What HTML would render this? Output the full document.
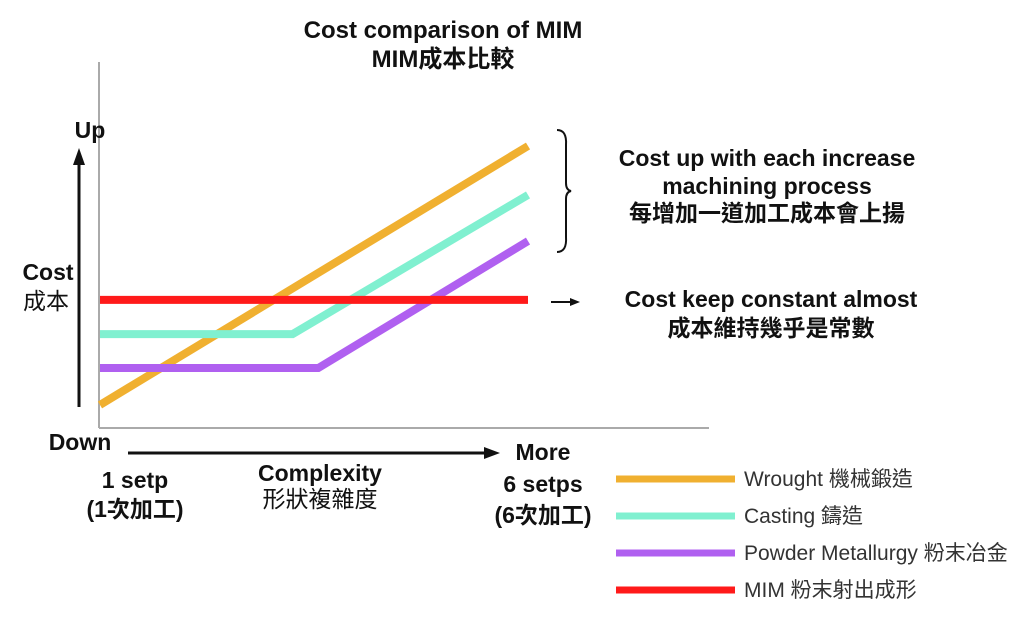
<!DOCTYPE html>
<html><head><meta charset="utf-8"><style>
body{margin:0;background:#fff;}
svg text{font-family:"Liberation Sans","Noto Sans CJK TC",sans-serif;fill:#111;}
.b{font-weight:bold;font-size:23px;}
.lg{font-size:21px;fill:#333;}
</style></head><body>
<svg id="c" width="1024" height="616" viewBox="0 0 1024 616" xmlns="http://www.w3.org/2000/svg">
<text class="b" x="443" y="38" text-anchor="middle" style="font-size:24px">Cost comparison of MIM</text>
<text class="b" x="443" y="67" text-anchor="middle" style="font-size:24px">MIM成本比較</text>
<line x1="99" y1="62" x2="99" y2="428" stroke="#aaa" stroke-width="2"/>
<line x1="99" y1="428" x2="709" y2="428" stroke="#aaa" stroke-width="2"/>
<line x1="79" y1="407" x2="79" y2="162" stroke="#111" stroke-width="3"/>
<polygon points="79,148 73,165 85,165" fill="#111"/>
<line x1="128" y1="453" x2="486" y2="453" stroke="#111" stroke-width="3"/>
<polygon points="500,453 484,447 484,459" fill="#111"/>
<text class="b" x="90" y="138" text-anchor="middle">Up</text>
<text class="b" x="48" y="280" text-anchor="middle">Cost</text>
<text class="b" x="46" y="309" text-anchor="middle" style="font-weight:normal">成本</text>
<text class="b" x="80" y="450" text-anchor="middle">Down</text>
<text class="b" x="543" y="460" text-anchor="middle">More</text>
<text class="b" x="135" y="488" text-anchor="middle">1 setp</text>
<text class="b" x="135" y="517" text-anchor="middle">(1次加工)</text>
<text class="b" x="320" y="481" text-anchor="middle">Complexity</text>
<text class="b" x="320" y="507" text-anchor="middle" style="font-weight:normal">形狀複雜度</text>
<text class="b" x="543" y="492" text-anchor="middle">6 setps</text>
<text class="b" x="543" y="523" text-anchor="middle">(6次加工)</text>
<path d="M557,130 Q567,130 566,145 L566,183 Q566,190 571,191 Q566,192 566,199 L566,237 Q567,252 557,252" fill="none" stroke="#111" stroke-width="2"/>
<text class="b" x="767" y="166" text-anchor="middle">Cost up with each increase</text>
<text class="b" x="767" y="194" text-anchor="middle">machining process</text>
<text class="b" x="767" y="221" text-anchor="middle">每增加一道加工成本會上揚</text>
<line x1="551" y1="302" x2="572" y2="302" stroke="#111" stroke-width="2"/>
<polygon points="580,302 570,298 570,306" fill="#111"/>
<text class="b" x="771" y="307" text-anchor="middle">Cost keep constant almost</text>
<text class="b" x="771" y="336" text-anchor="middle">成本維持幾乎是常數</text>
<g id="series"></g>
<g id="legend"></g>
</svg>
<script>
const seriesNames = ["Wrought 機械鍛造","Casting 鑄造","Powder Metallurgy 粉末冶金","MIM 粉末射出成形"];
const seriesColors = ["#f0b030","#80f0d0","#b060f0","#ff1a1a"];
const wroughtX = [0,100], wroughtY = [7.7,94];
const castingX = [0,45,100], castingY = [31.3,31.3,77.7];
const pmX = [0,51,100], pmY = [20,20,62.3];
const mimX = [0,100], mimY = [42.7,42.7];
const allX=[wroughtX,castingX,pmX,mimX], allY=[wroughtY,castingY,pmY,mimY];
const sx = v => 100 + v*4.28;
const sy = v => 428 - v*3;
const NS="http://www.w3.org/2000/svg";
const sg=document.getElementById('series'), lg=document.getElementById('legend');
const ids=["wrought","casting","powder-metallurgy","mim"];
for(let i=0;i<4;i++){
  const p=document.createElementNS(NS,'polyline');
  p.setAttribute('points',allX[i].map((x,j)=>sx(x)+','+sy(allY[i][j])).join(' '));
  p.setAttribute('fill','none');p.setAttribute('stroke',seriesColors[i]);p.setAttribute('stroke-width','8');
  
  
  sg.appendChild(p);
  const y=479+i*37;
  const l=document.createElementNS(NS,'line');
  l.setAttribute('x1',616);l.setAttribute('x2',735);l.setAttribute('y1',y);l.setAttribute('y2',y);
  l.setAttribute('stroke',seriesColors[i]);l.setAttribute('stroke-width','7');
  
  
  lg.appendChild(l);
  const t=document.createElementNS(NS,'text');
  t.setAttribute('x',744);t.setAttribute('y',y+7);t.setAttribute('class','lg');
  t.textContent=seriesNames[i];
  
  
  lg.appendChild(t);
}
</script>
</body></html>
